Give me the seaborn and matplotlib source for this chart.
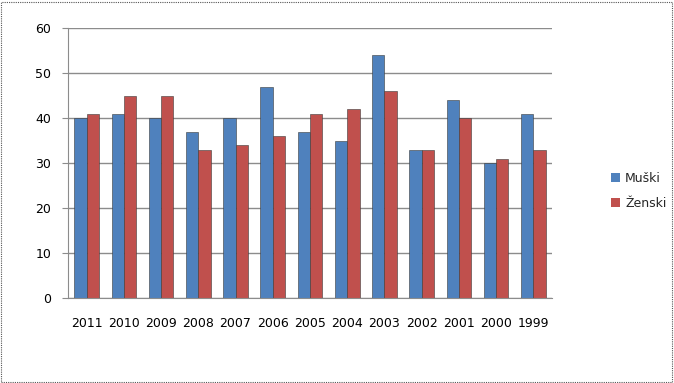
import matplotlib
matplotlib.use("Agg")
import matplotlib.pyplot as plt
import seaborn as sns
import pandas as pd
from matplotlib.patches import Rectangle

years = ["2011", "2010", "2009", "2008", "2007", "2006", "2005", "2004", "2003", "2002", "2001", "2000", "1999"]
muski = [40, 41, 40, 37, 40, 47, 37, 35, 54, 33, 44, 30, 41]
zenski = [41, 45, 45, 33, 34, 36, 41, 42, 46, 33, 40, 31, 33]
series = ["Muški", "Ženski"]
colors = ["#4F81BD", "#C0504D"]

df = pd.DataFrame({
    "Godina": years * 2,
    "Vrijednost": muski + zenski,
    "Spol": [series[0]] * len(years) + [series[1]] * len(years),
})

sns.set_style("white")
plt.rcParams["font.family"] = ["DejaVu Sans"]

fig = plt.figure(figsize=(6.74, 3.83), dpi=100)
ax = fig.add_axes([68 / 674, (383 - 298) / 383, 484 / 674, 270 / 383])

sns.barplot(data=df, x="Godina", y="Vrijednost", hue="Spol", order=years,
            hue_order=series, palette=colors, width=0.66, saturation=1, ax=ax,
            edgecolor="#3a3a3a", linewidth=0.4, legend=False)

ax.set_ylim(0, 60)
ax.set_yticks(range(0, 61, 10))
ax.set_xlim(-0.5, len(years) - 0.5)
ax.yaxis.grid(True, color="#8c8c8c", linewidth=1.0)
ax.set_axisbelow(True)
ax.set_xlabel("")
ax.set_ylabel("")
for s in ["top", "right"]:
    ax.spines[s].set_visible(False)
for s in ["left", "bottom"]:
    ax.spines[s].set_color("#8c8c8c")
ax.tick_params(axis="both", labelsize=9, colors="#000000", length=0, pad=8)
ax.tick_params(axis="x", pad=14)
ax.set_xticks(range(len(years)))
ax.set_xticklabels(years)
ax.set_xticks([i - 0.5 for i in range(len(years) + 1)], minor=True)
ax.tick_params(axis="x", which="minor", length=4, color="#8c8c8c")
ax.tick_params(axis="y", length=4, color="#8c8c8c", left=True)

handles = [Rectangle((0, 0), 1, 1, facecolor=c, edgecolor="none") for c in colors]
fig.legend(handles, series, loc="center left", bbox_to_anchor=(600 / 674, 1 - 191 / 383),
           frameon=False, fontsize=9, handlelength=0.7, handleheight=0.7,
           handletextpad=0.4, labelspacing=1.0)

border = Rectangle((0.002, 0.003), 0.995, 0.993, transform=fig.transFigure, fill=False,
                   edgecolor="#555555", linestyle=(0, (1, 1)), linewidth=0.8)
fig.patches.append(border)

fig.savefig("out.png", dpi=100, facecolor="white")
